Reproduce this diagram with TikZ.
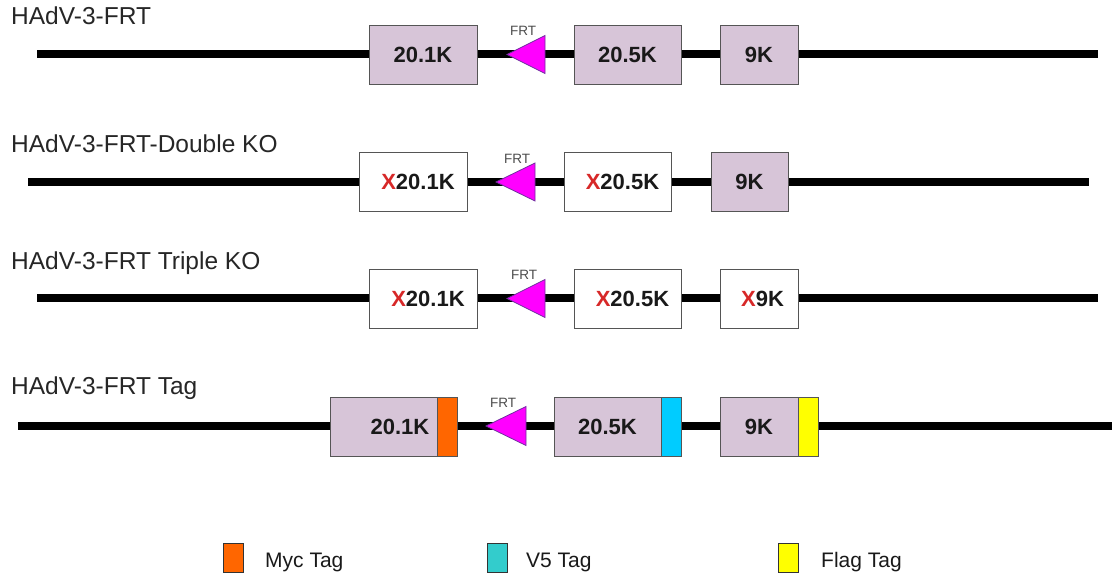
\documentclass[tikz,border=0pt]{standalone}
\usepackage{fontspec}
\setmainfont{Liberation Sans}
\definecolor{genefill}{RGB}{215,197,216}
\definecolor{geneedge}{RGB}{85,85,85}
\definecolor{frtfill}{RGB}{255,0,255}
\definecolor{frtedge}{RGB}{112,48,160}
\definecolor{myc}{RGB}{255,102,0}
\definecolor{vfive}{RGB}{0,204,255}
\definecolor{vfiveleg}{RGB}{51,204,204}
\definecolor{flag}{RGB}{255,255,0}
\definecolor{koX}{RGB}{215,40,40}
\tikzset{
  backbone/.style={line width=7.5pt, black},
  gene/.style={draw=geneedge, line width=0.9pt, fill=genefill, minimum height=59pt, inner sep=0pt,
    font=\fontsize{22}{26}\selectfont\bfseries, text=black!90},
  kogene/.style={gene, fill=white},
  tagbox/.style={draw=geneedge, line width=0.9pt, minimum height=59pt, minimum width=20pt, inner sep=0pt},
  frt/.style={draw=frtedge, fill=frtfill, line width=0.8pt, line join=miter},
  frtlabel/.style={font=\fontsize{13.5}{16}\selectfont, text=black!70, inner sep=0pt},
  title/.style={font=\fontsize{24.5}{28}\selectfont, anchor=base west, inner sep=0pt, text=black!85},
  legendbox/.style={draw=black!80, line width=1pt, minimum width=20pt, minimum height=29pt, inner sep=0pt},
  legendtext/.style={font=\fontsize{21}{25}\selectfont, anchor=base west, inner sep=0pt, text=black!90}
}
\newcommand{\koX}{\textcolor{koX}{X}}
\begin{document}
\begin{tikzpicture}[x=1pt,y=-1pt]
\useasboundingbox (0,0) rectangle (1112,577);

% ---------- Row 1: HAdV-3-FRT ----------
\node[title] (t1) at (11,25) {HAdV-3-FRT};
\coordinate (s1) at (37,54);
\coordinate (e1) at (1098,54);
\draw[backbone] (s1) -- (e1);
\node[gene, minimum width=108pt] (a1) at (423,54.5) {20.1K};
\coordinate (f1) at (507,54.5);
\filldraw[frt] (f1) -- ++(38,-19) -- ++(0,38) -- cycle;
\node[frtlabel] (l1) at (523,31) {FRT};
\node[gene, minimum width=107pt] (b1) at (627.5,54.5) {20.5K};
\node[gene, minimum width=78pt] (c1) at (759,54.5) {9K};

% ---------- Row 2: Double KO ----------
\node[title] (t2) at (11,153) {HAdV-3-FRT-Double KO};
\coordinate (s2) at (28,182);
\coordinate (e2) at (1089,182);
\draw[backbone] (s2) -- (e2);
\node[kogene, minimum width=108pt] (a2) at (413,182) {\hspace*{10pt}\koX20.1K};
\coordinate (f2) at (496,182);
\filldraw[frt] (f2) -- ++(39,-19) -- ++(0,38) -- cycle;
\node[frtlabel] (l2) at (517,159) {FRT};
\node[kogene, minimum width=107pt] (b2) at (617.5,182) {\hspace*{10pt}\koX20.5K};
\node[gene, minimum width=77pt] (c2) at (749.5,182) {9K};

% ---------- Row 3: Triple KO ----------
\node[title] (t3) at (11,270) {HAdV-3-FRT Triple KO};
\coordinate (s3) at (37,298);
\coordinate (e3) at (1098,298);
\draw[backbone] (s3) -- (e3);
\node[kogene, minimum width=108pt] (a3) at (423,298.5) {\hspace*{10pt}\koX20.1K};
\coordinate (f3) at (507,298.5);
\filldraw[frt] (f3) -- ++(38,-19) -- ++(0,38) -- cycle;
\node[frtlabel] (l3) at (524,275) {FRT};
\node[kogene, minimum width=107pt] (b3) at (627.5,298.5) {\hspace*{10pt}\koX20.5K};
\node[kogene, minimum width=78pt] (c3) at (759,298.5) {\hspace*{7pt}\koX9K};

% ---------- Row 4: Tag ----------
\node[title] (t4) at (11,395) {HAdV-3-FRT Tag};
\coordinate (s4) at (18,426);
\coordinate (e4) at (1112,426);
\draw[backbone] (s4) -- (e4);
\node[gene, minimum width=107pt] (a4) at (383.5,426.5) {\hspace*{33pt}20.1K};
\node[tagbox, fill=myc, anchor=west] (ta4) at (a4.east) {};
\coordinate (f4) at (486,426);
\filldraw[frt] (f4) -- ++(40,-19.5) -- ++(0,39) -- cycle;
\node[frtlabel] (l4) at (503,403) {FRT};
\node[gene, minimum width=107pt] (b4) at (607.5,426.5) {20.5K};
\node[tagbox, fill=vfive, anchor=west] (tb4) at (b4.east) {};
\node[gene, minimum width=78pt] (c4) at (759,426.5) {9K};
\node[tagbox, fill=flag, anchor=west] (tc4) at (c4.east) {};

% ---------- Legend ----------
\node[legendbox, fill=myc] (mycbox) at (233,557.5) {};
\node[legendtext] (myctext) at (265,567) {Myc Tag};
\node[legendbox, fill=vfiveleg] (v5box) at (497,557.5) {};
\node[legendtext] (v5text) at (526,567) {V5 Tag};
\node[legendbox, fill=flag] (flagbox) at (788.5,557.5) {};
\node[legendtext] (flagtext) at (821,567) {Flag Tag};
\end{tikzpicture}
\end{document}
